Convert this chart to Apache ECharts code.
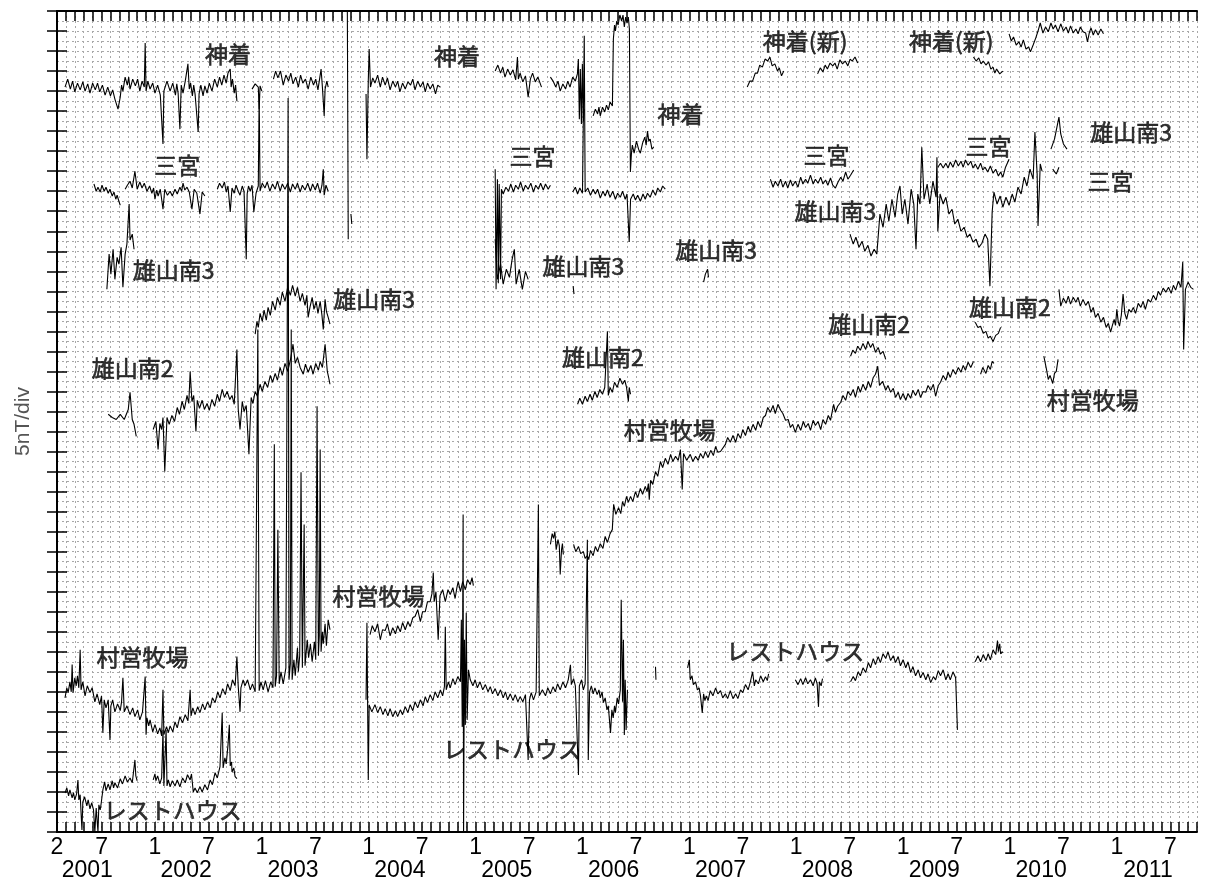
<!DOCTYPE html>
<html>
<head>
<meta charset="utf-8">
<script src="https://cdn.jsdelivr.net/npm/echarts@6/dist/echarts.min.js"></script>
<style>
html,body{margin:0;padding:0;background:#fff;}
#chart{width:1206px;height:886px;}
</style>
</head>
<body>
<div id="chart"></div>
<script>
// x = months since 2001-02-01, y = total intensity (nT, arbitrary offset per station segment)
const monthLabelAt = [0,5,11,17,23,29,35,41,47,53,59,65,71,77,83,89,95,101,107,113,119,125];
const monthLabels  = ['2','7','1','7','1','7','1','7','1','7','1','7','1','7','1','7','1','7','1','7','1','7'];
const yearLabelAt  = [3.4,14.5,26.5,38.5,50.5,62.5,74.5,86.5,98.5,110.5,122.5];
const yearLabels   = ['2001','2002','2003','2004','2005','2006','2007','2008','2009','2010','2011'];

const kamitsuki = [
[0.9,186],[1.2,188],[1.5,185.5],[1.75,187.5],[2.0,184.8],[2.3,187],[2.6,185.3],[2.9,187.3],[3.15,185],[3.45,186.8],[3.7,184.5],[4.0,187],[4.3,185.3],[4.55,187],[4.8,184.8],[5.1,186.5],[5.4,184],[5.7,186],[6.0,183.8],[6.25,185.3],[6.5,183],[6.85,180.5],[7.1,183.5],[7.25,186.5],[7.4,185],[7.65,188.5],[7.9,186.5],[8.05,188.5],[8.2,185.5],[8.5,188],[8.8,186.3],[9.05,188],[9.3,185],[9.55,187.5],[9.8,186],[9.9,197],[10.0,185],[10.2,187.5],[10.45,185.5],[10.75,187],[11.0,184.5],[11.3,186.5],[11.6,184],[11.9,171.8],[12.0,185],[12.35,187.5],[12.7,185],[13.0,187],[13.3,184],[13.45,186.8],[13.6,184.5],[13.8,175.5],[13.95,186.5],[14.15,184.5],[14.4,187.5],[14.7,191.8],[14.85,185.5],[15.0,187],[15.2,183.8],[15.35,186.5],[15.5,184.3],[15.85,174.8],[15.95,184.3],[16.15,186.5],[16.4,183.8],[16.6,186.3],[16.85,184.5],[17.1,187],[17.4,185],[17.7,188],[18.0,186],[18.25,188.5],[18.5,186.5],[18.75,189],[19.0,187],[19.2,189.5],[19.45,190.5],[19.55,186],[19.7,188],[19.9,184.5],[20.05,186.5],[20.2,182.5],[20.6,null],
[21.9,185.5],[22.25,186.8],[22.6,186],[22.7,180.5],[22.8,186.3],[23.0,185],[23.5,null],
[24.3,188],[24.55,190],[24.8,188.3],[25.1,190],[25.4,186.5],[25.7,189],[26.0,187.5],[26.25,189.5],[26.5,186.8],[26.8,188.5],[27.1,186],[27.35,189],[27.6,187],[27.9,188],[28.2,185.5],[28.5,188.5],[28.8,186.5],[29.05,188],[29.3,185.3],[29.65,190.5],[29.8,186],[30.0,178.8],[30.1,185.5],[30.3,187.5],[30.45,186],[31,null],
[32.6,205],[32.7,148],[32.8,null],[33.0,154.3],[33.1,151.8],[33.5,null],
[34.7,184.3],[34.8,168],[34.95,187.5],[35.05,195.5],[35.2,186],[35.45,188.3],[35.7,187],[36.0,189],[36.3,186],[36.55,188.5],[36.85,186.5],[37.1,188.3],[37.4,185.3],[37.7,187.5],[38.0,186],[38.25,187.5],[38.5,184.8],[38.8,187],[39.1,185.5],[39.4,187.3],[39.7,186.5],[39.95,188],[40.2,185.3],[40.5,187.5],[40.8,186],[41.1,187.3],[41.35,184.8],[41.6,187],[41.9,185.5],[42.2,186.8],[42.5,184.3],[42.75,186.5],[43.0,186],[44,null],
[49.2,190],[49.5,191.5],[49.8,189.5],[50.05,191],[50.3,188.5],[50.6,190.5],[50.9,189],[51.2,190.3],[51.5,187.8],[51.7,193.5],[51.8,188],[52.0,189.5],[52.3,187.3],[52.6,188.8],[52.9,183.5],[53.15,188],[53.4,189.5],[53.7,187.3],[54.0,188.5],[54.4,186],[55,null],
[55.4,188.5],[55.7,187.5],[56.0,186],[56.25,187.5],[56.5,185],[56.8,186.8],[57.1,185.5],[57.35,187.5],[57.6,186],[57.9,188.5],[58.2,187.5],[58.43,189.3],[58.54,193],[58.65,178],[58.76,190.5],[58.88,176.8],[58.99,191.8],[59.1,177.5],[59.2,180.5],[59.7,null],
[60.2,178.8],[60.45,180.5],[60.7,179.3],[60.85,181],[61.0,178.8],[61.25,181],[61.5,179.8],[61.7,181.5],[61.9,180.3],[62.1,182.3],[62.36,181.3],[62.47,198],[62.6,201.5],[62.7,200],[62.85,202.5],[63.0,201.5],[63.2,204],[63.4,202.5],[63.55,204],[63.7,201],[63.85,203.5],[64.0,202],[64.15,203.5],[64.27,200.5],[64.38,164.8],[64.5,169.5],[64.6,171.5],[64.8,169.5],[65.06,172.5],[65.3,170.5],[65.5,169.5],[65.75,172],[66.0,173.5],[66.15,171.5],[66.3,175],[66.45,172.5],[66.6,173],[66.8,170.5],[67.0,171],[68,null],
[77.5,186],[77.8,187.5],[78.1,187.5],[78.4,189.5],[78.65,189.5],[78.9,191.5],[79.2,191],[79.5,193],[79.8,192.5],[80.05,193.5],[80.3,191.3],[80.6,191.8],[80.9,190],[81.1,190.8],[81.35,188.8],[81.6,190],[82.5,null],
[85.4,189.3],[85.7,190.8],[86.0,189.8],[86.25,191.5],[86.5,190.5],[86.8,192],[87.1,191.3],[87.35,192],[87.6,190.5],[87.9,192.8],[88.2,191.8],[88.5,192.5],[88.8,191.3],[89.05,193],[89.3,192.5],[89.6,193.5],[89.9,192],[91,null],
[102.9,193.5],[103.2,192.5],[103.5,193.3],[103.75,191.8],[104.0,192.5],[104.3,191.5],[104.6,192.3],[104.85,190.5],[105.1,191],[105.3,189.5],[105.5,190.5],[105.85,189.3],[106.2,190],[106.5,null],
[106.9,199.3],[107.15,197.5],[107.4,198.5],[107.7,196.5],[108.0,197.3],[108.25,196],[108.5,197.8],[108.8,195.5],[109.1,196],[109.3,194.8],[109.6,196.5],[109.9,198.3],[110.15,200],[110.4,202],[110.7,199.5],[111.0,201],[111.3,199.8],[111.6,202],[111.85,200.5],[112.1,201.5],[112.4,199.8],[112.7,201.8],[113.0,200],[113.3,201],[113.55,199.5],[113.8,201.3],[114.1,199.5],[114.4,200.5],[114.65,199.3],[114.9,201],[115.2,199.8],[115.5,199.5],[115.7,197.3],[115.9,199.5],[116.1,200.8],[116.35,199],[116.6,200.3],[116.9,199],[117.2,200.5],[117.5,199.3]
];

const miyake = [
[4.15,161.8],[4.4,160],[4.6,161],[4.85,159.8],[5.05,161.5],[5.3,160],[5.5,161],[5.75,159.5],[5.95,160.5],[6.2,158.8],[6.4,159.8],[6.6,158],[6.75,159],[6.95,157.5],[7.1,156.5],[7.4,null],
[7.65,160.5],[7.9,161.5],[8.2,162.5],[8.45,160.8],[8.75,165],[9.0,160.5],[9.3,162.3],[9.55,160.8],[9.8,162],[10.1,160],[10.4,161.3],[10.65,159.5],[10.85,160.8],[11.0,158],[11.2,160.3],[11.35,158.8],[11.6,160.5],[11.9,155.5],[12.1,160.5],[12.4,159],[12.7,160],[12.95,158.8],[13.25,160.5],[13.5,159.3],[13.8,161],[14.0,160],[14.15,162],[14.35,160.3],[14.6,161],[14.85,159.8],[15.15,155.5],[15.4,160.5],[15.7,159.5],[16.05,154.3],[16.3,159.8],[16.6,158.8],[17,null],
[18.0,160.5],[18.25,162],[18.55,160.8],[18.8,162.3],[19.0,159.8],[19.2,161.3],[19.45,154.8],[19.65,160.8],[19.9,159.5],[20.1,161.5],[20.35,160],[20.55,159],[20.8,161.3],[21.0,160],[21.25,143],[21.35,159.3],[21.5,161.3],[21.7,160],[21.9,161.5],[22.1,154.8],[22.35,159.5],[22.6,161.3],[22.7,184.3],[22.8,160],[23.05,162],[23.35,160.8],[23.6,162.3],[23.9,160],[24.2,161.8],[24.5,160.5],[24.75,162.5],[25.05,160],[25.3,161.8],[25.6,160.5],[25.9,162],[26.2,159.8],[26.45,161.8],[26.75,160.5],[27.0,162],[27.3,159.8],[27.55,161.5],[27.85,160.3],[28.15,162],[28.45,160],[28.7,161.8],[29.0,160.3],[29.25,162],[29.55,159.5],[29.75,161.5],[29.9,165.5],[30.0,159],[30.2,161.5],[30.45,160],[31,null],
[49.2,165.5],[49.3,135.5],[49.45,163],[49.55,137],[49.65,161.8],[49.8,138],[49.9,160.5],[50.1,159.3],[50.4,161],[50.7,160],[50.95,161.8],[51.25,159.8],[51.5,161.5],[51.8,160.5],[52.05,162.3],[52.35,160],[52.6,161.5],[52.9,160.5],[53.2,162],[53.5,159.8],[53.75,161.5],[54.05,160.5],[54.3,162],[54.6,160.3],[54.85,161.8],[55.15,160.5],[55.4,161.5],[56,null],
[57.9,159.8],[58.2,161],[58.45,159.3],[58.7,160.8],[59.0,159.5],[59.1,159.8],[59.2,198.8],[59.3,159.8],[59.6,160.8],[59.9,159],[60.2,160.5],[60.45,159.3],[60.7,160.5],[61.0,158.3],[61.3,160],[61.55,158.8],[61.8,160.3],[62.1,158.5],[62.4,160],[62.7,158],[62.95,159.5],[63.25,158.5],[63.5,160],[63.8,158],[64.0,159.3],[64.25,147.3],[64.4,158],[64.7,159.3],[64.95,157.8],[65.2,159],[65.5,157.5],[65.8,159.3],[66.05,158],[66.3,159.5],[66.6,158.5],[66.9,160.3],[67.2,159],[67.45,160.8],[67.75,159.8],[68.0,161.3],[68.3,160.5],[69,null],
[80.1,163],[80.4,161],[80.65,162.5],[80.95,161.3],[81.25,163],[81.5,161],[81.8,162.5],[82.05,160.8],[82.35,162.8],[82.6,161.3],[82.9,162.5],[83.2,161],[83.5,163.5],[83.75,161.8],[84.05,163],[84.3,162],[84.6,164],[84.9,161.8],[85.15,163],[85.45,162],[85.75,163.5],[86.0,161.8],[86.3,162.8],[86.55,161.5],[86.85,163.3],[87.1,161.5],[87.4,160.8],[87.7,162.3],[88.0,163.5],[88.25,162.5],[88.55,164.8],[88.8,163],[89.1,164],[89.45,165.3],[91,null],
[98.9,166],[99.2,167],[99.5,165.8],[99.8,167],[100.05,165.8],[100.3,167.3],[100.6,166],[100.9,167.8],[101.2,166.3],[101.5,167.5],[101.75,166],[102.0,167.8],[102.3,166.5],[102.6,167.5],[102.85,165.8],[103.1,166.8],[103.4,165.5],[103.7,167],[103.95,165.3],[104.2,166],[104.5,164.8],[104.8,166.3],[105.1,164.5],[105.4,165.5],[105.7,163.8],[105.95,164.8],[106.2,163.5],[106.5,166],[106.9,168],[107.5,null],
[111.8,165.5],[112.2,164.3],[112.5,166]
];

const oyama3 = [
[5.6,135.5],[5.85,144.3],[6.05,139.3],[6.3,145.5],[6.5,138],[6.75,143.5],[6.95,141.8],[7.2,146],[7.4,136],[7.65,144.3],[7.85,146.8],[8.1,156.8],[8.2,147.8],[8.45,149.3],[8.65,145.5],[9.5,null],
[22.25,124.3],[22.45,127.5],[22.6,126],[22.8,129.5],[23.05,127.5],[23.25,130.3],[23.5,127.8],[23.7,131],[23.95,129],[24.2,132.5],[24.5,130.3],[24.75,133.5],[25.05,131.5],[25.3,134.8],[25.6,132.5],[25.9,136],[26.2,134],[26.45,136.5],[26.75,133.8],[27.0,136],[27.3,132.5],[27.55,134.5],[27.85,131.5],[28.05,134],[28.2,128.5],[28.4,131],[28.65,133.5],[28.85,130.5],[29.1,132.5],[29.3,129.5],[29.55,132.5],[29.75,129],[29.9,125.5],[30.1,133],[30.25,130],[30.45,128.5],[30.65,126.8],[31.5,null],
[49.2,148],[49.45,138],[49.8,141.8],[50.1,136.8],[50.45,140.5],[50.8,138.5],[51.1,143],[51.35,145.5],[51.55,136.8],[51.9,140.5],[52.25,135.5],[52.6,140],[52.9,138],[53.5,null],
[57.95,136.3],[58.05,134.3],[58.5,null],
[72.6,137.3],[72.8,139.3],[73.05,140.5],[73.15,138.5],[74,null],
[89.04,149.3],[89.4,146.8],[89.7,148.5],[90.05,146],[90.4,147.5],[90.7,145],[91.05,146.5],[91.4,143.8],[91.75,145.5],[92.05,144.3],[92.4,154.3],[92.75,151],[93.1,156.8],[93.4,152.5],[93.75,158],[94.1,153.5],[94.4,159.3],[94.65,161.3],[94.9,154.3],[95.2,158],[95.55,151.8],[95.9,160.5],[96.2,156.8],[96.45,145.5],[96.65,159.3],[96.9,156.8],[97.1,171],[97.35,158],[97.7,161.8],[98.0,156.8],[98.35,162.5],[98.7,158.5],[98.8,168.5],[98.9,150],[99.15,159.3],[99.5,156.8],[99.8,158.5],[100.15,154.3],[100.5,155.5],[100.8,151.8],[101.15,153],[101.5,150],[101.85,151],[102.2,148.5],[102.5,149.3],[102.85,147.3],[103.2,148],[103.5,146],[103.85,147],[104.2,149.3],[104.5,148],[104.75,136.3],[105.0,154.8],[105.2,159.8],[105.55,156.8],[105.9,158.8],[106.2,156],[106.55,158.5],[106.9,156.5],[107.25,159.3],[107.55,157.3],[107.9,161],[108.25,159.3],[108.6,163.5],[108.9,161.3],[109.25,165.5],[109.6,163],[109.8,174.8],[110.05,164.3],[110.15,151.3],[110.4,166.8],[110.6,165],[111.2,null],
[111.6,170.5],[112.0,173],[112.5,178.5],[112.7,174.3],[113.0,171.8],[113.4,170.5]
];

const oyama2 = [
[5.75,104.3],[6.2,103.5],[6.65,103],[7.1,104.3],[7.55,103],[8.0,105.5],[8.2,109.8],[8.45,103],[8.65,101.8],[8.9,98.8],[9.8,null],
[10.8,100.5],[11.1,102.5],[11.35,95.5],[11.55,102],[11.75,100.5],[11.9,103.5],[12.1,90],[12.35,103.5],[12.6,101.8],[12.9,104],[13.2,102.5],[13.5,106],[13.75,104.3],[14.05,107.5],[14.3,105.5],[14.6,109],[14.8,107],[14.95,115],[15.15,107.5],[15.35,109],[15.6,100],[15.75,107.8],[16.0,105.8],[16.3,107.8],[16.55,105.5],[16.85,107],[17.1,105.3],[17.4,108],[17.7,106.3],[18.0,109.3],[18.25,107.5],[18.55,110.5],[18.8,108.5],[19.1,110],[19.4,108],[19.65,109],[19.9,106.8],[20.2,120.5],[20.35,105.5],[20.55,100.5],[20.8,107.5],[21.0,105],[21.25,106.5],[21.55,94.3],[21.8,108.5],[22.0,107],[22.25,110],[22.5,108.8],[22.8,111.8],[23.05,110],[23.35,112.5],[23.65,111],[23.95,114],[24.2,112.3],[24.5,114.5],[24.75,112.8],[25.05,116],[25.3,114],[25.6,117],[25.9,115],[26.2,117.8],[26.5,121.8],[26.75,117],[27.0,118.5],[27.3,116],[27.65,114.3],[27.9,116.8],[28.2,114.8],[28.5,116.5],[28.75,114.3],[29.05,117],[29.35,115.3],[29.55,117.5],[29.8,116],[30.1,121.8],[30.35,115],[30.5,113.5],[30.65,111.8],[31.5,null],
[58.45,106.8],[58.7,108.3],[59.0,106.8],[59.3,108.8],[59.55,107.5],[59.85,109.3],[60.1,107.8],[60.4,110],[60.65,108.5],[60.95,110.5],[61.25,109.3],[61.5,111],[61.8,125],[61.9,109],[62.1,111],[62.35,109.8],[62.6,112.3],[62.9,111],[63.2,113.3],[63.5,111.8],[63.75,112.8],[63.95,111],[64.15,107.5],[64.25,111],[64.4,109.3],[65,null],
[89.1,118.8],[89.35,120.3],[89.65,119.5],[89.9,121.3],[90.2,120.3],[90.5,122],[90.8,120.5],[91.05,122.5],[91.35,121],[91.6,122],[91.9,119.8],[92.2,121],[92.45,119.3],[92.75,120],[93.05,118],[94,null],
[103.1,127.3],[103.4,126],[103.7,126.3],[104.0,124.5],[104.3,125],[104.55,123.3],[104.8,123.8],[105.1,122.5],[105.4,124],[105.7,124.5],[105.95,126],[106.5,null],
[112.5,135.5],[112.7,131.3],[113.0,133.3],[113.3,132],[113.55,133.8],[113.8,131.8],[114.1,133.5],[114.4,132.3],[114.65,133.5],[114.9,131.3],[115.2,133],[115.5,131.5],[115.8,132.5],[116.1,129.8],[116.35,131],[116.6,128.5],[116.9,129.5],[117.2,127.3],[117.5,128.5],[117.8,126],[118.05,127],[118.3,124.8],[118.5,126.5],[118.7,128],[118.85,126.5],[119.0,130.5],[119.15,127.5],[119.3,126.3],[119.5,129],[119.7,134.3],[119.9,129.5],[120.1,128],[120.35,130.5],[120.6,129.8],[120.85,131],[121.1,129.5],[121.4,132],[121.7,131],[121.95,132.5],[122.2,130.5],[122.5,133],[122.8,132.3],[123.1,134],[123.4,132.8],[123.65,135],[123.9,134],[124.2,135.8],[124.5,134.8],[124.8,136],[125.1,134.5],[125.35,136.5],[125.6,135.3],[125.9,137.5],[126.2,136],[126.4,142.3],[126.5,120.5],[126.7,135.5],[127.0,137.3],[127.3,136],[127.6,135.5]
];

const bokujo = [
[0.9,33.5],[1.1,36],[1.25,34.8],[1.45,37.5],[1.6,35],[1.7,41.8],[1.8,34.8],[2.0,38.5],[2.15,36.5],[2.3,39],[2.45,36],[2.6,45.5],[2.7,35.5],[2.9,37.5],[3.15,34],[3.4,36.5],[3.7,34.8],[3.95,36],[4.25,32.5],[4.5,34.5],[4.8,31.8],[5.0,34],[5.15,24.8],[5.3,33],[5.5,31],[5.75,33],[5.95,23],[6.05,31.5],[6.25,33],[6.5,30],[6.8,32],[7.1,30.3],[7.25,32.5],[7.4,38.5],[7.55,30],[7.85,31.5],[8.2,29.3],[8.5,31],[8.75,28.8],[9.05,30.5],[9.3,28],[9.6,30],[9.9,38.8],[10.0,24.3],[10.1,28.5],[10.3,26.5],[10.45,28],[10.75,25],[11.0,26.8],[11.3,24.5],[11.55,26],[11.75,24],[11.9,35.5],[12.0,24.3],[12.3,26.3],[12.5,24.8],[12.7,26.5],[13.0,25],[13.25,27.5],[13.5,26],[13.8,28.8],[14.1,27.3],[14.4,29.3],[14.7,27.8],[14.95,35.5],[15.05,29],[15.25,31],[15.5,29.3],[15.8,31.3],[16.05,29.8],[16.35,32],[16.6,30.5],[16.9,32.5],[17.2,31],[17.45,33.5],[17.75,32.3],[18.05,35],[18.3,33.5],[18.6,35.8],[18.9,34.3],[19.15,37],[19.45,35.3],[19.7,38],[20.0,36.5],[20.2,43.8],[20.35,36.3],[20.55,30],[20.65,36],[20.9,38],[21.1,36.5],[21.4,38],[21.7,35.5],[21.95,37],[22.25,35],[22.55,125.5],[22.7,35.3],[22.9,37.5],[23.15,35.5],[23.4,37.8],[23.7,35],[24.0,37.5],[24.25,36],[24.4,96.8],[24.5,36.3],[24.65,39],[24.8,75.5],[24.95,37],[25.15,40],[25.4,37],[25.7,41],[25.95,183.3],[26.05,38],[26.2,42],[26.3,125.5],[26.4,38],[26.6,43],[26.75,39],[27.0,46],[27.1,40],[27.25,44],[27.4,89.8],[27.55,41],[27.75,76.8],[27.85,41.5],[28.1,48],[28.25,43.5],[28.45,47],[28.65,42.5],[28.9,47.5],[29.05,43],[29.2,106.3],[29.35,44],[29.45,49],[29.55,95.5],[29.65,45],[29.8,50],[29.9,47],[30.1,52],[30.25,46.5],[30.45,53],[30.65,50.5],[31.5,null],
[35.15,49.3],[35.4,51.5],[35.7,50],[36.0,52],[36.3,48],[36.55,50.5],[36.85,50.3],[37.1,52],[37.4,49],[37.7,51],[38.0,49.5],[38.25,51.5],[38.55,50],[38.8,52.3],[39.1,50.5],[39.4,52.5],[39.65,51.3],[39.95,53.5],[40.2,53.8],[40.5,55.5],[40.8,52.5],[41.05,55],[41.35,55],[41.6,57.5],[41.9,57.5],[42.1,59.5],[42.25,64.8],[42.35,57.5],[42.55,60],[42.8,48],[43.0,59],[43.3,60.5],[43.6,57.5],[43.9,60.5],[44.15,59.3],[44.45,61],[44.7,58.3],[44.9,61],[45.05,62.5],[45.3,60],[45.55,62.5],[45.85,60.5],[46.1,63],[46.4,61.8],[46.6,63.5],[46.75,61.5],[47.5,null],
[55.4,71.8],[55.6,74.5],[55.75,73.3],[55.9,75],[56.05,70.5],[56.25,73],[56.4,71.5],[56.5,64.3],[56.65,70.5],[56.75,72],[56.85,69.3],[57.4,null],
[58.0,71.8],[58.25,70],[58.55,71.3],[58.8,69.5],[59.1,70],[59.3,68.3],[59.55,69],[59.7,68],[59.9,70.3],[60.2,69],[60.45,71.3],[60.7,70],[61.0,72],[61.3,70.8],[61.55,73.8],[61.8,72.3],[62.1,74.5],[62.35,75.5],[62.5,81.8],[62.75,79.3],[63.05,81],[63.3,79.5],[63.5,82.5],[63.7,81.3],[63.95,83.8],[64.15,82.3],[64.4,83.8],[64.65,82.5],[64.95,85],[65.2,83.5],[65.5,85.8],[65.75,84.3],[66.05,86.3],[66.25,85],[66.4,87],[66.5,83],[66.65,87.8],[66.9,86.8],[67.2,90],[67.45,88.8],[67.75,92.5],[68.0,91],[68.3,93.3],[68.6,91.8],[68.9,94.3],[69.15,92.5],[69.45,93.8],[69.75,92.8],[70.0,95.5],[70.2,85.5],[70.35,94.5],[70.7,92.8],[71.1,94.3],[71.4,92.5],[71.7,93.8],[72.0,92.8],[72.25,94.5],[72.55,93.3],[72.8,95],[73.1,93.5],[73.4,95.3],[73.7,94],[73.95,96.3],[74.2,94.8],[74.5,95],[75.05,96.8],[75.3,98.5],[75.6,97.3],[75.9,99],[76.2,97.3],[76.45,99.5],[76.75,98.3],[77.0,100.5],[77.3,99],[77.6,101.3],[77.85,99.8],[78.15,101.8],[78.45,100.3],[78.7,102.5],[79.0,101],[79.3,103.5],[79.55,104],[79.8,106],[80.1,104.8],[80.4,106.5],[80.65,104.5],[80.95,106.8],[81.25,105.3],[81.5,104.5],[81.8,102.8],[82.1,103],[82.35,101],[82.6,101.8],[82.9,99.8],[83.2,101.8],[83.5,100.3],[83.8,102.5],[84.05,101],[84.35,102],[84.6,100.3],[84.9,102.8],[85.15,101.5],[85.45,102.5],[85.75,100.5],[86.0,103],[86.3,101.8],[86.6,104],[86.85,102.8],[87.2,106.8],[87.4,104.8],[87.65,106.3],[88.0,107.3],[88.25,109],[88.55,107.8],[88.8,110],[89.1,109],[89.4,110.5],[89.65,108.5],[89.95,111.3],[90.2,109.8],[90.5,111.8],[90.8,110.3],[91.1,112.5],[91.35,111],[91.65,113.5],[91.9,114.3],[92.15,116.3],[92.35,111.5],[92.7,112.5],[93.05,110.3],[93.3,111.5],[93.6,109.8],[93.9,110.8],[94.15,108.5],[94.45,109.8],[94.7,108],[95.0,109.5],[95.3,107.8],[95.55,109.5],[95.85,108.3],[96.1,110.3],[96.4,109],[96.7,110.5],[96.95,108.5],[97.25,110],[97.55,109.8],[97.8,111.5],[98.1,110.3],[98.4,111.8],[98.65,108.8],[98.95,111.5],[99.2,112.3],[99.5,114],[99.8,112.8],[100.05,114.8],[100.3,113.5],[100.6,115.5],[100.9,114.3],[101.2,116],[101.5,114.8],[101.75,116.5],[102.0,115.3],[102.3,117.3],[102.6,116],[102.9,117.5],[103.3,null],
[103.7,114.3],[103.95,116],[104.3,114.5],[104.55,116.5],[104.8,115.5],[105.0,117.5],[105.2,117],[106,null],
[110.8,118.8],[111.1,115.5],[111.3,113],[111.5,114],[111.8,112],[112.0,114.5],[112.2,115],[112.4,118]
];

const resthouse = [
[0.9,9.75],[1.1,11],[1.3,9],[1.45,10.5],[1.7,8.5],[1.85,9.8],[2.0,8],[2.2,9.5],[2.35,13],[2.45,8],[2.6,9.3],[2.8,0.5],[2.9,7.5],[3.1,8.8],[3.35,6.5],[3.5,8],[3.7,5.8],[3.9,7.3],[4.1,5.5],[4.25,0],[4.4,6],[4.6,0],[4.7,6.8],[4.85,5.5],[4.95,7],[5.15,10.5],[5.35,12.5],[5.5,10.3],[5.75,12],[5.95,10.5],[6.2,12.8],[6.35,11],[6.5,12.3],[6.8,11],[7.1,13.3],[7.35,12],[7.65,14],[7.9,12.5],[8.2,13.5],[8.45,12.3],[8.75,18],[8.85,14],[9.0,12.8],[10,null],
[10.8,13],[11.0,14.5],[11.1,12.8],[11.3,14],[11.55,12],[11.75,13.5],[11.9,25.5],[12.0,11.5],[12.25,25.5],[12.35,11.5],[12.5,13],[12.7,11.3],[12.95,12.8],[13.25,11.5],[13.5,13],[13.8,11.3],[14.1,13.5],[14.4,12.3],[14.65,14.3],[14.95,13],[15.1,14.5],[15.3,10],[15.5,11],[15.75,9.8],[16.05,11.3],[16.3,10],[16.6,11.8],[16.9,10.5],[17.2,13],[17.45,11.8],[17.75,14.8],[18.0,13.5],[18.3,16.3],[18.55,29.75],[18.65,16],[18.85,18.5],[19.0,17],[19.2,21.75],[19.35,26.75],[19.45,16.5],[19.6,17.5],[19.65,15],[19.85,16],[20.0,13.8],[20.2,13.3],[21,null],
[34.7,33],[34.8,52.25],[34.95,13],[35.05,31.75],[35.35,30],[35.7,31.8],[36.0,29.8],[36.3,31.3],[36.6,29.3],[36.85,30.8],[37.15,29],[37.4,30.8],[37.7,28.8],[38.0,30.3],[38.25,28.8],[38.55,30.5],[38.8,29.3],[39.1,31.3],[39.4,29.8],[39.65,31.8],[39.95,30.3],[40.2,32.5],[40.5,31],[40.8,33],[41.1,31.5],[41.35,33.8],[41.6,32.3],[41.9,34.3],[42.2,32.8],[42.45,35],[42.75,33.5],[43.05,35.5],[43.3,34],[43.5,36.3],[43.6,51.25],[43.7,35.5],[43.95,37.5],[44.15,36],[44.45,38.3],[44.7,36.8],[45.0,38.8],[45.3,37.5],[45.4,53],[45.5,26.25],[45.6,79.25],[45.65,0],[45.75,48],[45.85,26.75],[45.95,54.75],[46.05,28],[46.2,40.5],[46.4,38],[46.7,36.5],[46.95,38],[47.2,36],[47.5,37.5],[47.8,35.5],[48.1,36.8],[48.4,35],[48.65,36.3],[48.9,34.5],[49.2,35.8],[49.5,34],[49.8,35.5],[50.1,33.5],[50.35,35],[50.6,33],[50.9,34.5],[51.2,32.8],[51.45,34.3],[51.75,32.5],[52.0,33.8],[52.3,32.5],[52.6,34.3],[52.9,18],[53.05,33],[53.25,34.8],[53.5,33],[53.8,35],[54.05,81.75],[54.15,34],[54.5,35.5],[54.85,34],[55.1,36],[55.4,34.5],[55.7,36.3],[55.95,35],[56.2,37],[56.5,35.5],[56.8,37.5],[57.1,36],[57.4,38],[57.65,41.75],[57.75,36.8],[58.0,38.3],[58.2,36.5],[58.55,14.25],[58.65,36.5],[58.9,38],[59.1,35.5],[59.3,37],[59.55,73],[59.65,18],[59.8,35],[60.0,36.5],[60.2,34.5],[60.4,36],[60.65,34.3],[60.85,35.5],[61.0,33.5],[61.2,35],[61.35,32.3],[61.55,33.5],[61.75,30.5],[61.9,31.5],[62.15,24.75],[62.3,30.5],[62.45,28.5],[62.6,31.5],[62.7,29.8],[62.9,33.5],[63.05,32],[63.25,35.5],[63.35,58],[63.5,32.5],[63.6,48],[63.7,24.25],[63.8,38],[63.9,25.5],[64.05,35.5],[64.5,null],
[67.2,41.25],[67.25,38],[67.5,null],
[70.8,41],[71.0,43],[71.1,38],[71.3,39],[71.45,36.8],[71.7,37.5],[71.9,35.5],[72.1,36],[72.25,34],[72.45,29.75],[72.6,34.5],[72.75,32.8],[72.9,34],[73.1,32.8],[73.35,35.3],[73.65,34],[73.95,36],[74.2,34.5],[74.5,35.3],[74.75,33.5],[75.05,34.5],[75.3,33.3],[75.6,35.3],[75.9,33.3],[76.2,34.5],[76.45,33.3],[76.75,35.5],[77.0,34.8],[77.3,36.8],[77.6,35.5],[77.85,37.5],[78.1,40],[78.3,36.5],[78.45,38],[78.75,37],[79.0,39],[79.3,37.5],[79.55,38.8],[79.75,37.8],[79.9,39.5],[81,null],
[82.9,38],[83.2,36.8],[83.5,38.3],[83.75,36.8],[84.05,38.5],[84.3,37],[84.6,38],[84.9,36.5],[85.15,38.5],[85.35,37],[85.5,31.25],[85.6,37.5],[85.8,36.5],[85.95,38.3],[87,null],
[89.1,37.5],[89.4,38.8],[89.65,37.8],[89.95,40],[90.2,39],[90.5,41],[90.8,39.8],[91.1,42.3],[91.35,41],[91.65,43.3],[91.9,41.8],[92.2,43.8],[92.45,42.3],[92.75,44.5],[93.05,43.3],[93.3,45],[93.6,42.8],[93.9,44],[94.15,42.3],[94.45,43.8],[94.7,41.5],[95.0,43],[95.3,41],[95.55,42.5],[95.85,39.8],[96.1,41.3],[96.4,39],[96.7,40.5],[96.95,38.5],[97.25,39.8],[97.55,38],[97.8,39.5],[98.1,37.3],[98.4,38.8],[98.65,38],[98.95,40.3],[99.2,39],[99.5,40.5],[99.8,38],[100.05,39.5],[100.3,38],[100.6,40],[100.9,38.5],[101.1,25.5],[101.2,null],
[103.1,42.5],[103.4,44],[103.7,42.5],[104.0,44.3],[104.3,42.8],[104.55,44.5],[104.8,43],[105.1,45.5],[105.4,44.3],[105.6,47.8],[105.7,45],[105.85,47],[105.95,44.5],[106.2,45]
];

const stationLabels = [
[19.2,194.25,'神着'],[44.9,193.75,'神着'],[70.0,179.25,'神着'],[84.0,197.5,'神着(新)'],[100.4,197.5,'神着(新)'],
[13.5,166.5,'三宮'],[53.4,168.75,'三宮'],[86.4,169,'三宮'],[104.6,171.25,'三宮'],[118.3,162.5,'三宮'],
[13.1,140.25,'雄山南3'],[35.6,133,'雄山南3'],[59.1,141.25,'雄山南3'],[74.0,145.25,'雄山南3'],[87.4,155,'雄山南3'],[120.6,174.75,'雄山南3'],
[8.5,115.75,'雄山南2'],[61.3,118.5,'雄山南2'],[91.2,126.75,'雄山南2'],[107.0,131,'雄山南2'],
[9.6,43.75,'村営牧場'],[36.1,58.75,'村営牧場'],[68.8,100.25,'村営牧場'],[116.3,107.75,'村営牧場'],
[82.9,45.25,'レストハウス'],[51.1,20.75,'レストハウス'],[13.0,5.5,'レストハウス']
];

const X_MAX = 128, Y_MAX = 205;
const gridDash = {color:'#a8a8a8', width:1, type:[2,3]};
const frame = {show:true, lineStyle:{color:'#000', width:2}};
const tick = {show:true, inside:true, length:10, lineStyle:{color:'#000', width:1.5}};
const tickFont = {color:'#000', fontSize:23, fontFamily:'Liberation Sans'};

const chart = echarts.init(document.getElementById('chart'), null, {renderer:'canvas'});
function lineSeries(name, data){
  return {name, type:'line', data, xAxisIndex:0, yAxisIndex:0, showSymbol:false, symbol:'none',
    connectNulls:false, clip:true, lineStyle:{color:'#000', width:1.1}, silent:true, z:3};
}
chart.setOption({
  animation:false,
  backgroundColor:'#fff',
  grid:{left:57, right:9, top:11, bottom:54, containLabel:false, outerBoundsMode:'none'},
  xAxis:[
    {type:'value', min:0, max:X_MAX, interval:1, position:'bottom',
     axisLine:frame, axisTick:tick,
     splitLine:{show:true, lineStyle:gridDash},
     axisLabel:Object.assign({show:true, margin:4, customValues:monthLabelAt,
       formatter:function(v){const i=monthLabelAt.indexOf(Math.round(v)); return i>=0?monthLabels[i]:'';}}, tickFont)},
    {type:'value', min:0, max:X_MAX, position:'bottom', offset:23,
     axisLine:{show:false}, axisTick:{show:false}, splitLine:{show:false},
     axisLabel:Object.assign({show:true, margin:4, customValues:yearLabelAt,
       formatter:function(v){let best=0; for(let i=0;i<yearLabelAt.length;i++){if(Math.abs(yearLabelAt[i]-v)<Math.abs(yearLabelAt[best]-v)) best=i;} return yearLabels[best];}}, tickFont)},
    {type:'value', min:0, max:X_MAX, interval:1, position:'top',
     axisLine:frame, axisTick:tick, splitLine:{show:false}, axisLabel:{show:false}}
  ],
  yAxis:[
    {type:'value', min:0, max:Y_MAX, interval:5, position:'left',
     name:'5nT/div', nameLocation:'middle', nameGap:23, nameRotate:90,
     nameTextStyle:{color:'#555', fontSize:21, fontFamily:'Liberation Sans'},
     axisLine:frame, axisTick:tick, axisLabel:{show:false},
     splitLine:{show:true, lineStyle:gridDash},
     minorTick:{show:false, splitNumber:2},
     minorSplitLine:{show:true, lineStyle:gridDash}},
    {type:'value', min:0, max:Y_MAX, interval:5, position:'right',
     axisLine:frame, axisTick:tick, axisLabel:{show:false}, splitLine:{show:false}}
  ],
  series:[
    lineSeries('神着', kamitsuki),
    lineSeries('三宮', miyake),
    lineSeries('雄山南3', oyama3),
    lineSeries('雄山南2', oyama2),
    lineSeries('村営牧場', bokujo),
    lineSeries('レストハウス', resthouse),
    {type:'scatter', data:stationLabels, symbolSize:1, itemStyle:{color:'rgba(0,0,0,0)'}, silent:true, z:5,
     label:{show:true, position:'inside', color:'#000', fontSize:23, fontWeight:'normal',
       textBorderColor:'#000', textBorderWidth:0.6,
       fontFamily:'Noto Sans CJK JP', formatter:function(p){return p.data[2];}}}
  ]
});
</script>
</body>
</html>
